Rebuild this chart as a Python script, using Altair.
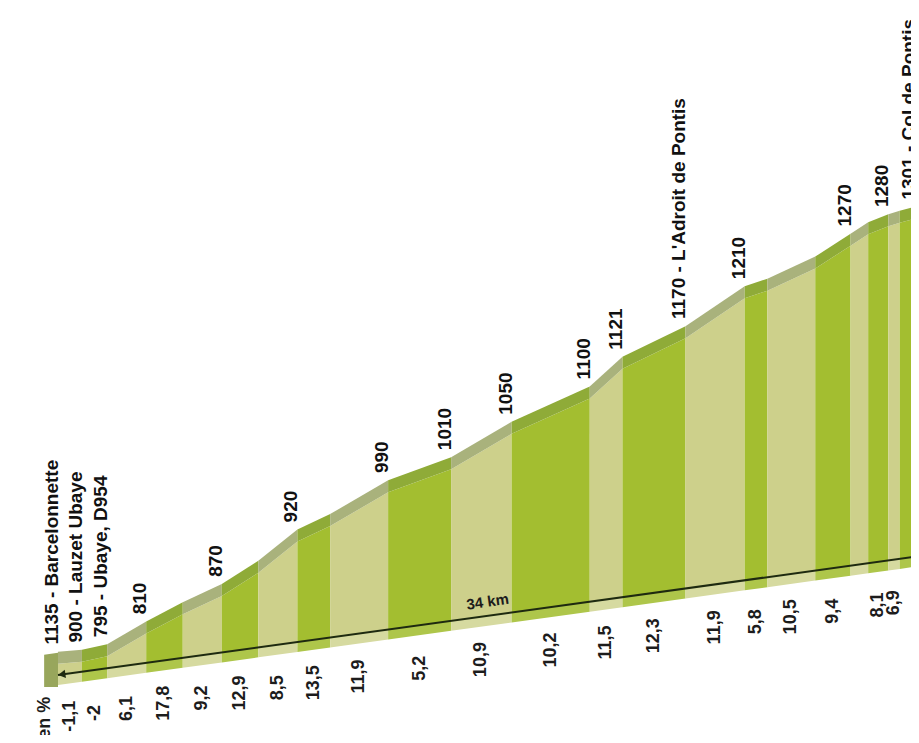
import altair as alt
import pandas as pd

# ---- data ----
# segment boundaries along the climb (km) and profile elevation at each (m)
km = [0, 0.95, 1.95, 3.5, 4.95, 6.5, 7.95, 9.5, 10.8, 13.1, 15.6, 18.0, 21.1,
      22.4, 24.9, 27.25, 28.15, 30.05, 31.45, 32.15, 32.95, 33.4, 34.0]
elev = [795, 793, 796, 823, 845, 865, 893, 933, 950, 990, 1012, 1054, 1092,
        1131, 1165, 1214, 1221, 1245, 1273, 1287, 1295, 1298, 1301]
# gradient label of each segment (%)
grade = ["-1,1", "-2", "6,1", "17,8", "9,2", "12,9", "8,5", "13,5", "11,9", "5,2",
         "10,9", "10,2", "11,5", "12,3", "11,9", "5,8", "10,5", "9,4", "", "8,1",
         "6,9", ""]
# label written above each boundary
place = ["1135 - Barcelonnette", "900 - Lauzet Ubaye", "795 - Ubaye, D954", "810", "",
         "870", "", "920", "", "990", "1010", "1050", "1100", "1121",
         "1170 - L'Adroit de Pontis", "1210", "", "", "1270", "", "1280", "",
         "1301 - Col de Pontis"]
total_km = 34
total_label = "34 km"
axis_label = "Pente en %"

# ---- drawing constants (perspective of the profile) ----
W, H = 903, 727
PXK = 25.2      # px per km
PXM = 0.646     # px per metre
SKEW = 5.38     # baseline rise, m per km (perspective tilt)
BASE0 = 759     # baseline level at km 0 (m)
x_dom = [-50 / PXK, -50 / PXK + W / PXK]
y_max = BASE0 + 667 / PXM
y_dom = [y_max - H / PXM, y_max]

BEVEL = 12 / PXM
UNDER = 10 / PXM

def base(k):
    return BASE0 + SKEW * k

rows = []
for i in range(len(km) - 1):
    kind = "light" if i % 2 == 0 else "green"
    for j in (i, i + 1):
        top = elev[j] + SKEW * km[j]
        b = base(km[j])
        rows.append(dict(seg=i, kind=kind, km=km[j], top=top, stop=top - BEVEL,
                         base=b, bottom=b - UNDER))
segs = pd.DataFrame(rows)

side = pd.DataFrame(dict(km=[-0.55, 0]))
side["top"] = elev[0] + SKEW * side["km"] - 1 / PXM
side["bottom"] = base(0) - UNDER - 2 / PXM

line_df = pd.DataFrame(dict(km=[0, total_km], v=[base(0), base(total_km)]))
arrow_df = pd.DataFrame(dict(km=[0.15, total_km], v=[base(0.15), base(total_km)]))

grade_df = pd.DataFrame(dict(
    km=[(km[i] + km[i + 1]) / 2 for i in range(len(grade))], label=grade))
grade_df["v"] = base(grade_df["km"]) - 43 / PXM
grade_df = grade_df[grade_df["label"] != ""]

place_df = pd.DataFrame(dict(km=km, elev=elev, label=place))
place_df["x"] = place_df["km"] - 6 / PXK
place_df["v"] = place_df["elev"] + SKEW * place_df["x"] + 8 / PXM
place_df = place_df[place_df["label"] != ""]

total_df = pd.DataFrame(dict(km=[17.05], label=[total_label]))
total_df["v"] = base(17.05) + 14 / PXM

axis_df = pd.DataFrame(dict(km=[-0.52], label=[axis_label]))
axis_df["v"] = base(-0.52) - 20 / PXM

X = lambda f: alt.X(f, type="quantitative", scale=alt.Scale(domain=x_dom, nice=False, zero=False), axis=None)
Y = lambda f: alt.Y(f, type="quantitative", scale=alt.Scale(domain=y_dom, nice=False, zero=False), axis=None, stack=None)

kinds = ["light", "green"]
def band(y, y2, colors):
    return alt.Chart(segs).mark_area(clip=True, interpolate="linear", opacity=1).encode(
        x=X("km"), y=Y(y), y2=alt.Y2(y2),
        color=alt.Color("kind:N", scale=alt.Scale(domain=kinds, range=colors), legend=None),
        detail="seg:N")

under = band("base", "bottom", ["#d6daa0", "#aec64a"])
main = band("stop", "base", ["#cdd08b", "#a3be30"])
bevel = band("top", "stop", ["#a9b27c", "#8fab38"])

side_face = alt.Chart(side).mark_area(clip=True, color="#98a65c", opacity=1).encode(
    x=X("km"), y=Y("top"), y2=alt.Y2("bottom"))

baseline = alt.Chart(line_df).mark_line(clip=True, color="#1e2a10", strokeWidth=2).encode(
    x=X("km"), y=Y("v"))
arrow = alt.Chart(arrow_df).mark_point(shape="triangle-left", filled=True, size=70,
                                       color="#1e2a10", opacity=1, angle=352, clip=True).encode(
    x=X("km"), y=Y("v"))

FONT = "Liberation Sans"
total_txt = alt.Chart(total_df).mark_text(font=FONT, fontSize=15, fontWeight="bold",
                                          color="#1c1c1c", angle=352, align="center",
                                          baseline="middle").encode(
    x=X("km"), y=Y("v"), text="label:N")

grade_txt = alt.Chart(grade_df).mark_text(font=FONT, fontSize=18, fontWeight="bold",
                                          color="#1c1c1c", angle=270, align="center",
                                          baseline="middle", clip=True).encode(
    x=X("km"), y=Y("v"), text="label:N")

place_txt = alt.Chart(place_df).mark_text(font=FONT, fontSize=19, fontWeight="bold",
                                          color="#111111", angle=270, align="left",
                                          baseline="middle", clip=True).encode(
    x=X("x"), y=Y("v"), text="label:N")

axis_txt = alt.Chart(axis_df).mark_text(font=FONT, fontSize=18, fontWeight="bold",
                                        color="#1c1c1c", angle=270, align="right",
                                        baseline="middle", clip=True).encode(
    x=X("km"), y=Y("v"), text="label:N")

chart = alt.layer(under, main, bevel, side_face, baseline, arrow, total_txt,
                  grade_txt, place_txt, axis_txt).resolve_scale(
    color="independent").properties(
    width=W, height=H, padding=0, autosize=alt.AutoSizeParams(type="none"),
    background="white").configure_view(stroke=None)

chart.save("out.html", embed_options={"renderer": "svg", "actions": False})
